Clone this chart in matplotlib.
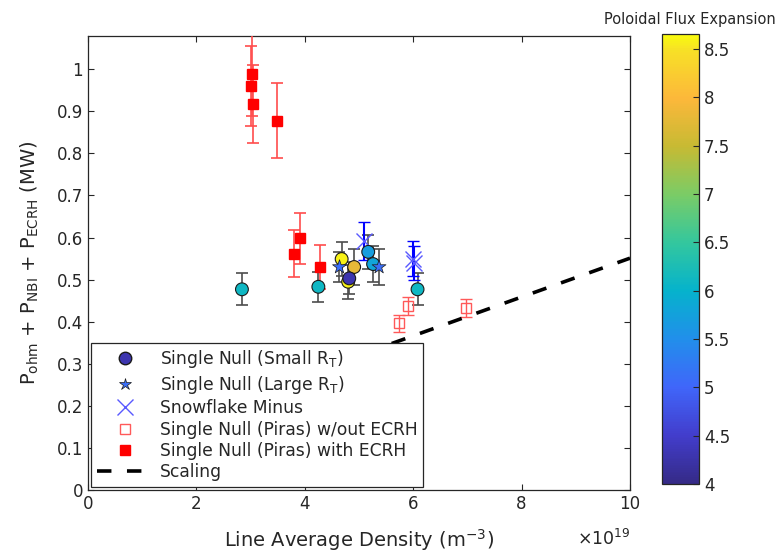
import matplotlib
matplotlib.use('Agg')
import matplotlib.pyplot as plt
from matplotlib.colors import LinearSegmentedColormap, Normalize
from matplotlib.cm import ScalarMappable
from matplotlib.lines import Line2D

# single null, small R_T (circles, coloured by flux expansion)
small_n = [2.84, 4.25, 4.68, 4.80, 4.91, 4.82, 5.17, 5.26, 6.08]
small_p = [0.477, 0.483, 0.549, 0.495, 0.530, 0.503, 0.566, 0.537, 0.477]
small_err = [0.038, 0.035, 0.040, 0.040, 0.043, 0.038, 0.040, 0.042, 0.038]
small_fx = [6.1, 6.1, 8.6, 8.6, 7.8, 4.3, 5.7, 5.8, 6.1]

# single null, large R_T (stars)
large_n = [4.64, 5.37]
large_p = [0.530, 0.530]
large_err = [0.035, 0.042]
large_fx = [5.1, 5.1]

# snowflake minus
sf_n = [5.09, 6.00, 6.02]
sf_p = [0.592, 0.550, 0.540]
sf_err = [0.045, 0.042, 0.040]

# Piras single null without ECRH
noecrh_n = [5.74, 5.90, 6.98]
noecrh_p = [0.396, 0.438, 0.433]
noecrh_err = [0.021, 0.021, 0.021]

# Piras single null with ECRH
ecrh_n = [3.00, 3.03, 3.05, 3.49, 3.80, 3.92, 4.28]
ecrh_p = [0.960, 0.988, 0.918, 0.878, 0.562, 0.598, 0.530]
ecrh_err = [0.095, 0.100, 0.093, 0.089, 0.055, 0.060, 0.052]

# scaling line
scale_n = [3.0, 10.0]
scale_p = [0.228, 0.551]

cb_ticks = [4, 4.5, 5, 5.5, 6, 6.5, 7, 7.5, 8, 8.5]

# parula-like colormap
parula = LinearSegmentedColormap.from_list('parula', [
    (0.0, (0.208, 0.166, 0.529)),
    (0.107, (0.26, 0.24, 0.80)),
    (0.215, (0.25, 0.40, 0.98)),
    (0.322, (0.13, 0.56, 0.92)),
    (0.429, (0.02, 0.70, 0.80)),
    (0.536, (0.20, 0.78, 0.62)),
    (0.644, (0.48, 0.80, 0.40)),
    (0.751, (0.78, 0.73, 0.20)),
    (0.858, (0.99, 0.72, 0.23)),
    (0.966, (0.97, 0.88, 0.15)),
    (1.0, (0.976, 0.984, 0.055)),
])
norm = Normalize(vmin=4, vmax=8.655)

txt = (0.15, 0.15, 0.15)
plt.rcParams['font.family'] = ['DejaVu Sans']
plt.rcParams['text.color'] = txt
plt.rcParams['axes.labelcolor'] = txt
plt.rcParams['xtick.color'] = txt
plt.rcParams['ytick.color'] = txt

fig = plt.figure(figsize=(7.83, 5.54), dpi=100)
ax = fig.add_axes([0.1124, 0.1155, 0.6922, 0.8195])

# error bars
ax.errorbar(small_n, small_p, yerr=small_err, fmt='none', ecolor='0.3',
            elinewidth=1.2, capsize=4.3, capthick=1.2, zorder=2)
ax.errorbar(large_n, large_p, yerr=large_err, fmt='none', ecolor='0.3',
            elinewidth=1.2, capsize=4.3, capthick=1.2, zorder=2)
ax.errorbar(sf_n, sf_p, yerr=sf_err, fmt='x', color='#0000ff', ms=11,
            mec=(0.35, 0.35, 1.0), mew=1.0, elinewidth=1.5, capsize=4.3,
            capthick=1.2, zorder=3)
ax.errorbar(noecrh_n, noecrh_p, yerr=noecrh_err, fmt='s', color=(1, 0.35, 0.35),
            mfc='none', ms=6.5, mew=1.0, elinewidth=1.0, capsize=4.3,
            capthick=1.0, zorder=3)
ax.errorbar(ecrh_n, ecrh_p, yerr=ecrh_err, fmt='s', color=(1, 0.0, 0.0),
            ecolor=(1, 0.3, 0.3), ms=7.5, elinewidth=1.2, capsize=4.3,
            capthick=1.2, zorder=3)

ax.scatter(small_n, small_p, c=small_fx, cmap=parula, norm=norm, s=85,
           edgecolors='0.1', linewidths=0.8, zorder=4)
ax.scatter(large_n, large_p, c=large_fx, cmap=parula, norm=norm, s=110,
           marker='*', edgecolors='0.1', linewidths=0.5, zorder=5)

ax.plot(scale_n, scale_p, color='black', lw=2.6, linestyle=(0, (4.0, 4.3)),
        zorder=3)

ax.set_xlim(0, 10)
ax.set_ylim(0, 1.079)
ax.set_xticks([0, 2, 4, 6, 8, 10])
ax.set_yticks([0, 0.1, 0.2, 0.3, 0.4, 0.5, 0.6, 0.7, 0.8, 0.9, 1])
ax.set_yticklabels(['0', '0.1', '0.2', '0.3', '0.4', '0.5', '0.6', '0.7',
                    '0.8', '0.9', '1'])
ax.tick_params(direction='in', top=True, right=True, length=4, labelsize=12,
               width=0.8)
for s in ax.spines.values():
    s.set_color(txt)
    s.set_linewidth(0.9)

ax.set_xlabel('Line Average Density (m$^{-3}$)', fontsize=14, labelpad=10)
ax.set_ylabel(r'P$_{\mathrm{ohm}}$ + P$_{\mathrm{NBI}}$ + P$_{\mathrm{ECRH}}$ (MW)',
              fontsize=14, labelpad=11)
ax.text(1.0, -0.107, r'$\times$10$^{19}$', transform=ax.transAxes,
        ha='right', va='center', fontsize=12.5)

handles = [
    Line2D([], [], ls='none', marker='o', ms=9, mfc=parula(norm(4.3)), mec='0.1'),
    Line2D([], [], ls='none', marker='*', ms=9, mfc=parula(norm(5.1)), mec='0.1', mew=0.5),
    Line2D([], [], ls='none', marker='x', ms=11, mec=(0.35, 0.35, 1.0)),
    Line2D([], [], ls='none', marker='s', ms=6.5, mfc='white', mec=(1, 0.35, 0.35)),
    Line2D([], [], ls='none', marker='s', ms=7.5, mfc='red', mec='red'),
    Line2D([], [], color='black', lw=2.6, linestyle=(0, (4.0, 4.3))),
]
labels = [r'Single Null (Small R$_\mathrm{T}$)', r'Single Null (Large R$_\mathrm{T}$)',
          'Snowflake Minus', 'Single Null (Piras) w/out ECRH',
          'Single Null (Piras) with ECRH', 'Scaling']
leg = ax.legend(handles, labels, loc='lower left', bbox_to_anchor=(0, 0),
                borderaxespad=0.2, fontsize=12.3, handlelength=3.3,
                handletextpad=0.4, labelspacing=0.2, fancybox=False,
                framealpha=1, edgecolor=txt, borderpad=0.3)
leg.get_frame().set_linewidth(0.9)
leg.set_zorder(10)

cax = fig.add_axes([0.8455, 0.1264, 0.0473, 0.8122])
cb = fig.colorbar(ScalarMappable(norm=norm, cmap=parula), cax=cax, ticks=cb_ticks)
cb.ax.set_yticklabels(['4', '4.5', '5', '5.5', '6', '6.5', '7', '7.5', '8', '8.5'])
cb.ax.tick_params(direction='in', length=4, labelsize=12, width=0.8)
cb.outline.set_edgecolor(txt)
cb.outline.set_linewidth(0.9)
cax.set_title('Poloidal Flux Expansion', fontsize=10.5, pad=7, x=0.74)

fig.savefig('out.png', dpi=100)
